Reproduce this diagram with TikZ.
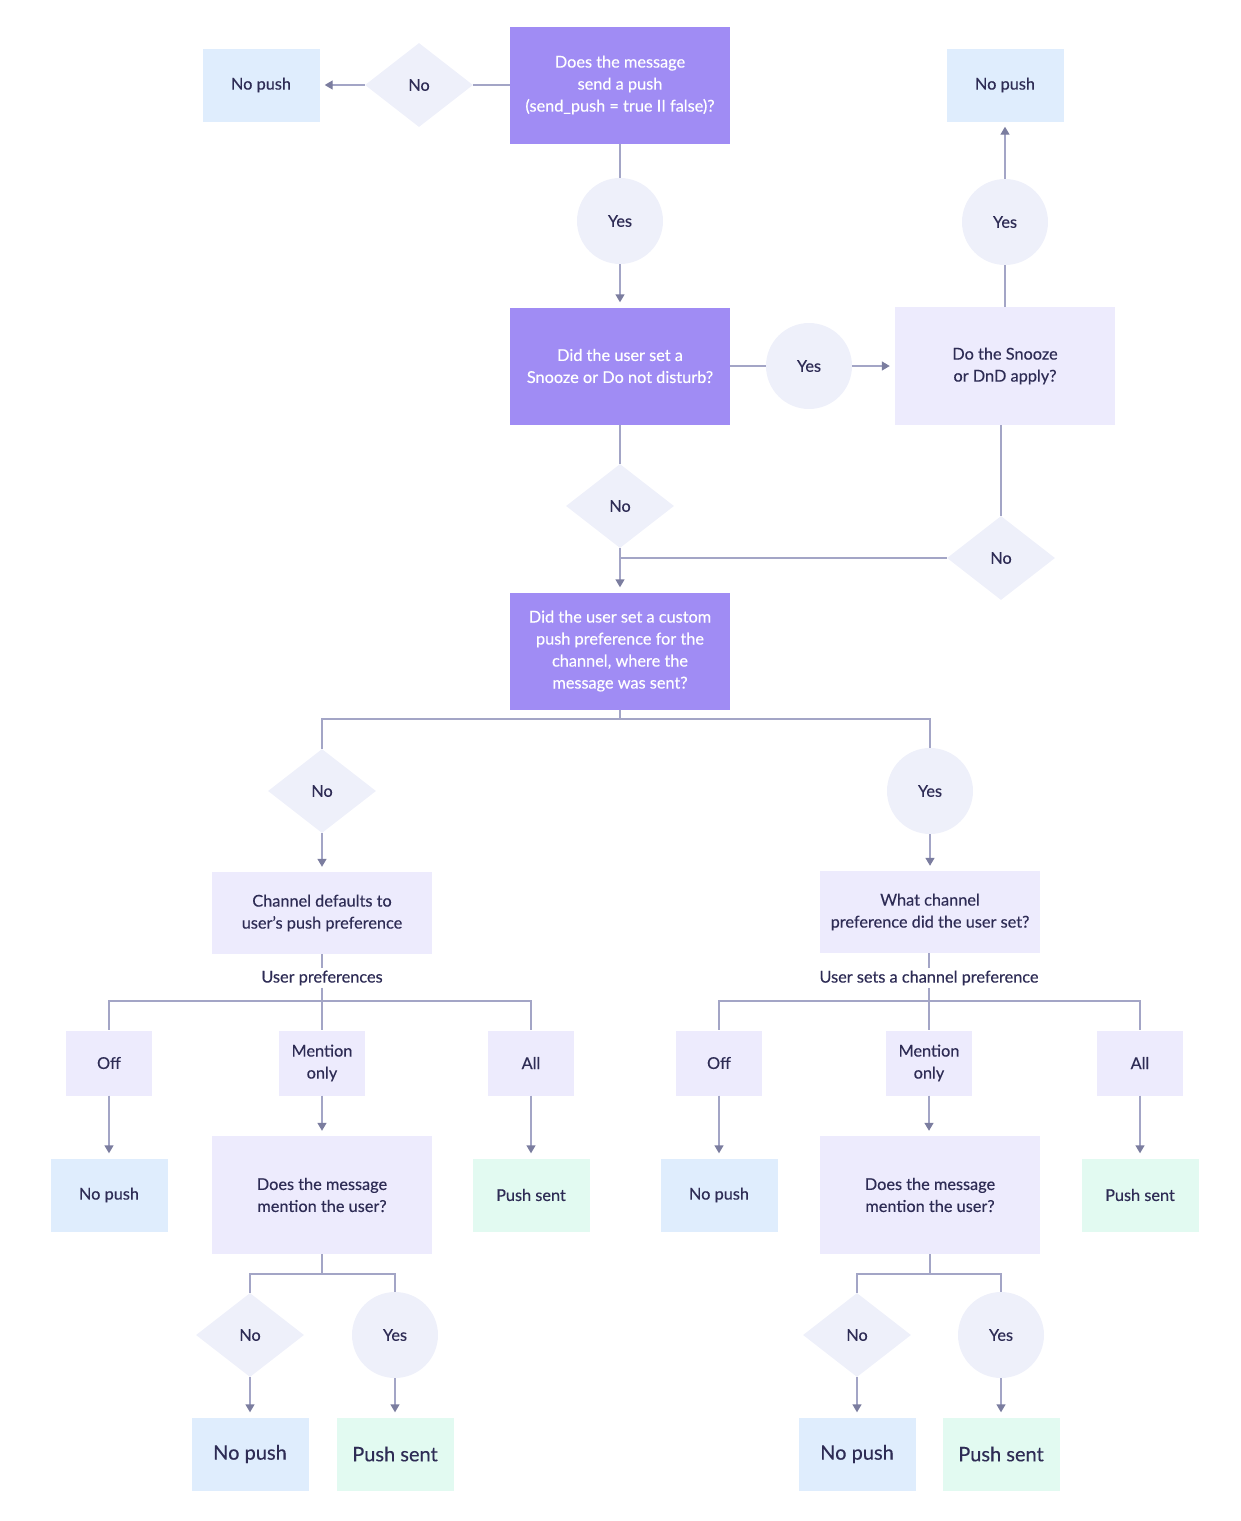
\documentclass[tikz,border=0pt]{standalone}
\usepackage{fontspec}
\setmainfont{Lato}[FakeBold=0.35]
\usetikzlibrary{shapes.geometric,arrows.meta}
\definecolor{purp}{HTML}{A08CF4}
\definecolor{lav}{HTML}{EDEBFD}
\definecolor{nblue}{HTML}{DFEDFD}
\definecolor{ngreen}{HTML}{E2FAF1}
\definecolor{dec}{HTML}{EEF0FA}
\definecolor{lnc}{HTML}{A3A5C6}
\definecolor{tipc}{HTML}{7B7D9F}
\definecolor{txt}{HTML}{2E2C55}
\tikzset{
  base/.style={inner sep=0pt, align=center, text=txt, font=\fontsize{16.3}{22}\selectfont},
  qbox/.style={base, fill=purp, text=white, minimum width=220pt, minimum height=117pt},
  lbox/.style={base, fill=lav, minimum width=220pt, minimum height=118pt},
  cbox/.style={base, fill=lav, minimum width=220pt, minimum height=82pt},
  sbox/.style={base, fill=lav, minimum width=86pt, minimum height=65pt},
  nopush/.style={base, fill=nblue, minimum width=117pt, minimum height=73pt},
  pushsent/.style={base, fill=ngreen, minimum width=117pt, minimum height=73pt},
  big/.style={font=\fontsize{20}{24}\selectfont},
  dia/.style={base, diamond, fill=dec, minimum width=108pt, minimum height=84pt},
  yes/.style={base, circle, fill=dec, minimum size=86pt},
  lbl/.style={base, fill=white, inner sep=2pt},
  conn/.style={draw=lnc, line width=1.4pt},
  arr/.style={conn, -{Triangle[width=9pt,length=8pt,color=tipc]}, shorten >=5pt},
}
\begin{document}
\begin{tikzpicture}[x=1pt,y=-1pt]
\useasboundingbox (0,0) rectangle (1241,1521);
% top
\node[qbox] (q1) at (620,85) {Does the message\\send a push\\(send\_push = true II false)?};
\node[dia] (n1) at (419,85) {No};
\node[nopush] (np1) at (261,85) {No push};
\node[yes] (y1) at (620,221) {Yes};
\node[qbox] (q2) at (620,366) {Did the user set a\\Snooze or Do not disturb?};
\node[yes] (y2) at (809,366) {Yes};
\node[lbox] (q3) at (1005,366) {Do the Snooze\\or DnD apply?};
\node[yes] (y3) at (1005,222) {Yes};
\node[nopush] (np2) at (1005,85) {No push};
\node[dia] (n2) at (620,506) {No};
\node[dia] (n3) at (1001,558) {No};
\node[qbox] (q4) at (620,651) {Did the user set a custom\\push preference for the\\channel, where the\\message was sent?};
\coordinate (j1) at (620,719);
\node[dia] (n4) at (322,791) {No};
\node[yes] (y4) at (930,791) {Yes};
\node[cbox] (c1) at (322,913) {Channel defaults to\\user’s push preference};
\node[cbox] (c2) at (930,912) {What channel\\preference did the user set?};
\node[lbl] (l1) at (322,978) {User preferences};
\node[lbl] (l2) at (929,978) {User sets a channel preference};
\coordinate (j2) at (322,1001);
\coordinate (j3) at (929,1001);
% left bottom
\node[sbox] (off1) at (109,1063) {Off};
\node[sbox] (men1) at (322,1063) {Mention\\only};
\node[sbox] (all1) at (531,1063) {All};
\node[nopush] (np3) at (109,1195) {No push};
\node[lbox] (m1) at (322,1195) {Does the message\\mention the user?};
\node[pushsent] (ps1) at (531,1195) {Push sent};
\coordinate (j4) at (322,1274);
\node[dia] (n5) at (250,1335) {No};
\node[yes] (y5) at (395,1335) {Yes};
\node[nopush,big] (np4) at (250,1454) {No push};
\node[pushsent,big] (ps2) at (395,1454) {Push sent};
% right bottom
\node[sbox] (off2) at (719,1063) {Off};
\node[sbox] (men2) at (929,1063) {Mention\\only};
\node[sbox] (all2) at (1140,1063) {All};
\node[nopush] (np5) at (719,1195) {No push};
\node[lbox] (m2) at (930,1195) {Does the message\\mention the user?};
\node[pushsent] (ps3) at (1140,1195) {Push sent};
\coordinate (j5) at (930,1274);
\node[dia] (n6) at (857,1335) {No};
\node[yes] (y6) at (1001,1335) {Yes};
\node[nopush,big] (np6) at (857,1454) {No push};
\node[pushsent,big] (ps4) at (1001,1454) {Push sent};
% connectors
\draw[conn] (q1.west) -- (n1.east);
\draw[arr] (n1.west) -- (np1.east);
\draw[conn] (q1.south) -- (y1.north);
\draw[arr] (y1.south) -- (q2.north);
\draw[conn] (q2.east) -- (y2.west);
\draw[arr] (y2.east) -- (q3.west);
\draw[conn] (q3.north) -- (y3.south);
\draw[arr] (y3.north) -- (np2.south);
\draw[conn] (q2.south) -- (n2.north);
\draw[arr] (n2.south) -- (q4.north);
\draw[conn] (q3.south -| n3) -- (n3.north);
\draw[conn] (n3.west) -- (n3.west -| n2);
\draw[conn] (q4.south) -- (j1) -| (n4.north);
\draw[conn] (j1) -| (y4.north);
\draw[arr] (n4.south) -- (c1.north);
\draw[arr] (y4.south) -- (c2.north);
\draw[conn] (c1.south) -- (l1.north);
\draw[conn] (c2.south -| l2) -- (l2.north);
\draw[conn] (l1.south) -- (j2);
\draw[conn] (l2.south) -- (j3);
\draw[conn] (j2) -| (off1.north);
\draw[conn] (j2) -| (all1.north);
\draw[conn] (j2) -- (men1.north);
\draw[conn] (j3) -| (off2.north);
\draw[conn] (j3) -| (all2.north);
\draw[conn] (j3) -- (men2.north);
\draw[arr] (off1.south) -- (np3.north);
\draw[arr] (men1.south) -- (m1.north);
\draw[arr] (all1.south) -- (ps1.north);
\draw[arr] (off2.south) -- (np5.north);
\draw[arr] (men2.south) -- (m2.north -| men2);
\draw[arr] (all2.south) -- (ps3.north);
\draw[conn] (m1.south) -- (j4);
\draw[conn] (j4) -| (n5.north);
\draw[conn] (j4) -| (y5.north);
\draw[arr] (n5.south) -- (np4.north);
\draw[arr] (y5.south) -- (ps2.north);
\draw[conn] (m2.south) -- (j5);
\draw[conn] (j5) -| (n6.north);
\draw[conn] (j5) -| (y6.north);
\draw[arr] (n6.south) -- (np6.north);
\draw[arr] (y6.south) -- (ps4.north);
\end{tikzpicture}
\end{document}
